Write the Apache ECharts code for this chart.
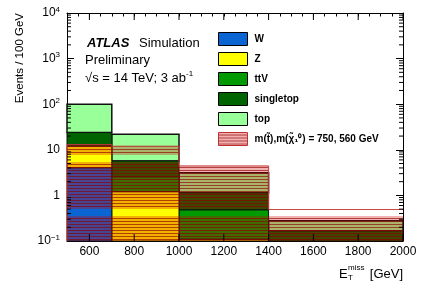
<!DOCTYPE html>
<html>
<head>
<meta charset="utf-8">
<script src="https://cdn.jsdelivr.net/npm/echarts@6/dist/echarts.min.js"></script>
<style>
html,body{margin:0;padding:0;background:#fff;}
#c{width:425px;height:288px;}
</style>
</head>
<body>
<div id="c"></div>
<script>
// ---- data ----
const binEdges = [500, 700, 1000, 1400, 2000];
const W = [4.0, 0.05, 0.002, 0];
const Z = [8.0, 1.15, 0.107, 0.005];
const ttV = [0.8, 1.35, 0.37, 0.03];
const singletop = [11.1, 3.16, 0.66, 0.131];
const topBkg = [76, 16.2, 1.98, 0.112];
const signal = [13.0, 12.0, 4.44, 0.49];
const seriesNames = ['W', 'Z', 'ttV', 'singletop', 'top'];
const signalName = 'm(t̃),m(χ̃₁⁰) = 750, 560 GeV';
const xTickLabels = [600, 800, 1000, 1200, 1400, 1600, 1800, 2000];
const yMinorTicks = [0.2,0.3,0.4,0.5,0.6,0.7,0.8,0.9, 2,3,4,5,6,7,8,9, 20,30,40,50,60,70,80,90, 200,300,400,500,600,700,800,900, 2000,3000,4000,5000,6000,7000,8000,9000];

const YMIN = 0.1, YMAX = 10000;
const colors = ['#0a64d2', '#ffff00', '#009a00', '#006400', '#99ff99'];
const FONT = 'Liberation Sans, Arial, sans-serif';

// hatch pattern for signal
const pc = document.createElement('canvas');
pc.width = 4; pc.height = 54;
const pctx = pc.getContext('2d');
for (let r = 0; r < 54; r++) {
  if (r >= 47) continue;
  pctx.fillStyle = (r % 3 === 2) ? 'rgba(150,0,0,0.75)' : 'rgba(215,0,0,0.3)';
  pctx.fillRect(0, r, 4, 1);
}
const hatch = { image: pc, repeat: 'repeat' };

const comps = [W, Z, ttV, singletop, topBkg];
const cum = [];
let run = [0, 0, 0, 0];
comps.forEach((arr) => {
  const rows = [];
  for (let i = 0; i < 4; i++) {
    rows.push([binEdges[i], binEdges[i + 1], run[i], run[i] + arr[i]]);
    run[i] += arr[i];
  }
  cum.push(rows);
});
const sigRows = signal.map((v, i) => [binEdges[i], binEdges[i + 1], 0, v, i > 0 ? signal[i - 1] : YMIN]);

function rectRender(fill, stroke, lw) {
  return function (params, api) {
    const x0 = api.value(0), x1 = api.value(1);
    const b = Math.max(api.value(2), YMIN);
    const t = api.value(3);
    if (t <= YMIN) return null;
    const p0 = api.coord([x0, Math.min(t, YMAX)]);
    const p1 = api.coord([x1, b]);
    return {
      type: 'rect',
      shape: { x: p0[0], y: p0[1], width: p1[0] - p0[0], height: p1[1] - p0[1] },
      style: { fill: fill, stroke: stroke, lineWidth: lw }
    };
  };
}

const series = [];
seriesNames.forEach((n, k) => {
  series.push({
    type: 'custom', name: n, data: cum[k],
    encode: { x: [0, 1], y: [2, 3] },
    itemStyle: { color: colors[k] },
    renderItem: rectRender(colors[k], '#111', k === 4 ? 1.5 : 1),
    z: 10 - k, silent: true
  });
});
series.push({
  type: 'custom', name: signalName, data: sigRows,
  encode: { x: [0, 1], y: [2, 3] },
  itemStyle: { color: hatch },
  renderItem: function (params, api) {
    const x0 = api.value(0), x1 = api.value(1), v = api.value(3), prev = Math.max(api.value(4), YMIN);
    const p0 = api.coord([x0, v]);
    const p1 = api.coord([x1, YMIN]);
    const pp = api.coord([x0, prev]);
    const ln = { stroke: 'rgba(200,60,60,0.95)', lineWidth: 1 };
    return { type: 'group', children: [
      { type: 'rect', shape: { x: p0[0], y: p0[1], width: p1[0] - p0[0], height: p1[1] - p0[1] }, style: { fill: hatch } },
      { type: 'line', shape: { x1: p0[0], y1: p0[1], x2: p1[0], y2: p0[1] }, style: ln },
      { type: 'line', shape: { x1: p0[0], y1: pp[1], x2: p0[0], y2: p0[1] }, style: ln }
    ]};
  },
  z: 20, silent: true
});
// minor log ticks (left + right)
series.push({
  type: 'custom', name: '_ymin', data: yMinorTicks.map(v => [v]),
  encode: { y: 0 },
  renderItem: function (params, api) {
    const v = api.value(0);
    const pl = api.coord([500, v]);
    const pr = api.coord([2000, v]);
    return { type: 'group', children: [
      { type: 'line', shape: { x1: pl[0], y1: pl[1], x2: pl[0] + 4, y2: pl[1] }, style: { stroke: '#000', lineWidth: 1 } },
      { type: 'line', shape: { x1: pr[0], y1: pr[1], x2: pr[0] - 4, y2: pr[1] }, style: { stroke: '#000', lineWidth: 1 } }
    ]};
  },
  z: 30, silent: true
});
// major x ticks at labelled values (bottom + top)
series.push({
  type: 'custom', name: '_xmaj', data: xTickLabels.map(v => [v]),
  encode: { x: 0 },
  renderItem: function (params, api) {
    const v = api.value(0);
    const pb = api.coord([v, YMIN]);
    const pt = api.coord([v, YMAX]);
    return { type: 'group', children: [
      { type: 'line', shape: { x1: pb[0], y1: pb[1], x2: pb[0], y2: pb[1] - 7 }, style: { stroke: '#000', lineWidth: 1 } },
      { type: 'line', shape: { x1: pt[0], y1: pt[1], x2: pt[0], y2: pt[1] + 7 }, style: { stroke: '#000', lineWidth: 1 } }
    ]};
  },
  z: 30, silent: true
});

function yFmt(v) {
  const e = Math.round(Math.log10(v));
  if (e === 0) return '1';
  if (e === 1) return '10';
  return '10{sup|' + (e < 0 ? '−1' : e) + '}';
}

const chart = echarts.init(document.getElementById('c'), null, { renderer: 'canvas' });
chart.setOption({
  animation: false,
  backgroundColor: '#fff',
  grid: { left: 67, right: 22, top: 13, bottom: 47 },
  legend: {
    orient: 'vertical', left: 218, top: 32, padding: 0,
    icon: 'rect',
    itemWidth: 29, itemHeight: 13, itemGap: 6,
    data: seriesNames.map(n => ({ name: n, icon: 'rect', itemStyle: { borderColor: '#000', borderWidth: 1 } }))
      .concat([{ name: signalName, icon: 'rect', itemStyle: { borderColor: '#c03030', borderWidth: 1 } }]),
    textStyle: { fontFamily: FONT, fontWeight: 'bold', fontSize: 10, color: '#000', padding: [0, 0, 0, 2] },
    selectedMode: false
  },
  xAxis: [
    { type: 'value', min: 500, max: 2000, interval: 50, position: 'bottom',
      axisLine: { lineStyle: { color: '#000', width: 1 } },
      axisTick: { inside: true, length: 3.5, lineStyle: { color: '#000' } },
      splitLine: { show: false },
      axisLabel: { margin: 5, fontFamily: FONT, fontSize: 12, color: '#000',
        formatter: v => (v % 200 === 0 && v >= 600) ? String(v) : '' } },
    { type: 'value', min: 500, max: 2000, interval: 50, position: 'top',
      axisLine: { lineStyle: { color: '#000', width: 1 } },
      axisTick: { inside: true, length: 3.5, lineStyle: { color: '#000' } },
      splitLine: { show: false }, axisLabel: { show: false } }
  ],
  yAxis: [
    { type: 'log', logBase: 10, min: YMIN, max: YMAX, position: 'left',
      axisLine: { show: true, lineStyle: { color: '#000', width: 1 } },
      axisTick: { show: true, inside: true, length: 7, lineStyle: { color: '#000' } },
      splitLine: { show: false },
      axisLabel: { margin: 7, fontFamily: FONT, fontSize: 12, color: '#000', formatter: yFmt,
        rich: { sup: { fontFamily: FONT, fontSize: 8, padding: [0, 0, 7, 0], color: '#000' } } } },
    { type: 'log', logBase: 10, min: YMIN, max: YMAX, position: 'right',
      axisLine: { show: true, lineStyle: { color: '#000', width: 1 } },
      axisTick: { show: true, inside: true, length: 7, lineStyle: { color: '#000' } },
      splitLine: { show: false }, axisLabel: { show: false } }
  ],
  series: series,
  graphic: [
    { type: 'text', left: 87, top: 37, style: { text: 'ATLAS', font: 'italic bold 13px ' + FONT, fill: '#000' } },
    { type: 'text', left: 139, top: 37, style: { text: 'Simulation', font: '13px ' + FONT, fill: '#000' } },
    { type: 'text', left: 85, top: 54, style: { text: 'Preliminary', font: '13px ' + FONT, fill: '#000' } },
    { type: 'text', left: 85, top: 70, style: { text: '√s = 14 TeV; 3 ab{sup|-1}', font: '13px ' + FONT, fill: '#000',
        rich: { sup: { fontSize: 8, padding: [0, 0, 8, 0], fontFamily: FONT } } } },
    { type: 'text', x: 20, y: 13, rotation: Math.PI / 2, style: { text: 'Events / 100 GeV', font: '11.5px ' + FONT, fill: '#000', align: 'right', verticalAlign: 'middle' } },
    { type: 'text', x: 339, y: 274, style: { text: 'E', font: '13px ' + FONT, fill: '#000', verticalAlign: 'middle' } },
    { type: 'text', x: 348, y: 268, style: { text: 'miss', font: '8px ' + FONT, fill: '#000', verticalAlign: 'middle' } },
    { type: 'text', x: 348, y: 278, style: { text: 'T', font: '8px ' + FONT, fill: '#000', verticalAlign: 'middle' } },
    { type: 'text', x: 403, y: 274, style: { text: '[GeV]', font: '13px ' + FONT, fill: '#000', align: 'right', verticalAlign: 'middle' } }
  ]
});
</script>
</body>
</html>
